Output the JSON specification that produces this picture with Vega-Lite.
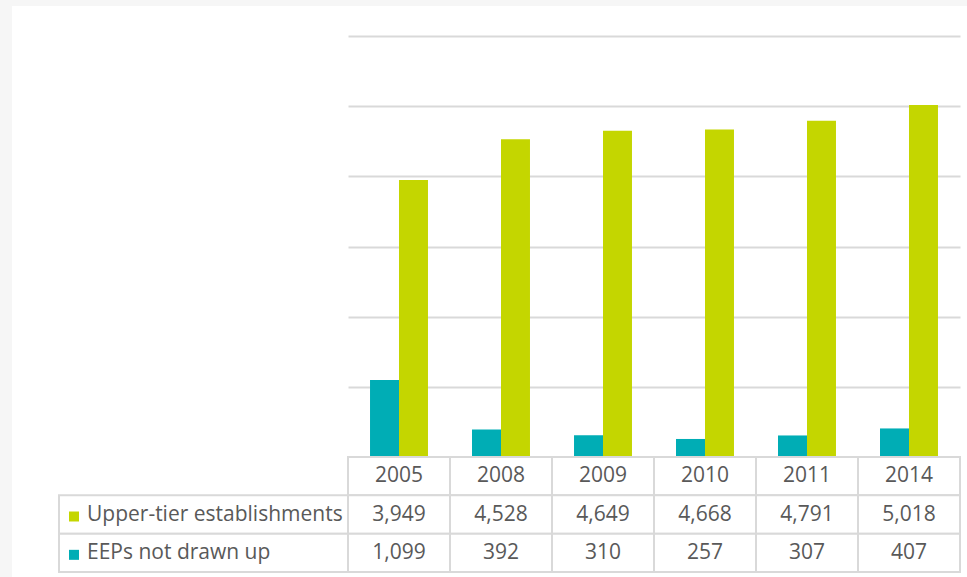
{
  "$schema": "https://vega.github.io/schema/vega-lite/v6.json",
  "background": "#f6f6f6",
  "padding": {"left": 12, "top": 6, "right": 0, "bottom": 0},
  "config": {
    "view": {"fill": "white", "stroke": null},
    "font": "Open Sans",
    "concat": {"spacing": 0}
  },
  "spacing": 0,
  "bounds": "flush",
  "columns": 2,
  "data": {
    "values": [
      {"year": "2005", "series": "Upper-tier establishments", "value": 3949},
      {"year": "2008", "series": "Upper-tier establishments", "value": 4528},
      {"year": "2009", "series": "Upper-tier establishments", "value": 4649},
      {"year": "2010", "series": "Upper-tier establishments", "value": 4668},
      {"year": "2011", "series": "Upper-tier establishments", "value": 4791},
      {"year": "2014", "series": "Upper-tier establishments", "value": 5018},
      {"year": "2005", "series": "EEPs not drawn up", "value": 1099},
      {"year": "2008", "series": "EEPs not drawn up", "value": 392},
      {"year": "2009", "series": "EEPs not drawn up", "value": 310},
      {"year": "2010", "series": "EEPs not drawn up", "value": 257},
      {"year": "2011", "series": "EEPs not drawn up", "value": 307},
      {"year": "2014", "series": "EEPs not drawn up", "value": 407}
    ]
  },
  "concat": [
    {
      "width": 336,
      "height": 451,
      "view": {"fill": "white", "stroke": null},
      "mark": {"type": "rect", "opacity": 0},
      "encoding": {
        "x": {"field": "year", "type": "nominal", "axis": null},
        "y": {"field": "series", "type": "nominal", "axis": null}
      }
    },
    {
      "width": 619,
      "height": 451,
      "mark": {"type": "bar"},
      "encoding": {
        "x": {
          "field": "year",
          "type": "nominal",
          "axis": null,
          "scale": {"range": [0, 612], "paddingInner": 0, "paddingOuter": 0}
        },
        "xOffset": {
          "field": "series",
          "type": "nominal",
          "scale": {
            "domain": ["EEPs not drawn up", "Upper-tier establishments"],
            "paddingInner": 0,
            "paddingOuter": 0.76
          }
        },
        "y": {
          "field": "value",
          "type": "quantitative",
          "scale": {"domain": [0, 6000], "range": [451, 30], "nice": false},
          "axis": {
            "values": [1000, 2000, 3000, 4000, 5000, 6000],
            "labels": false,
            "ticks": false,
            "domain": false,
            "title": null,
            "grid": true,
            "gridColor": "#d9d9d9",
            "gridWidth": 2
          }
        },
        "color": {
          "field": "series",
          "type": "nominal",
          "scale": {
            "domain": ["EEPs not drawn up", "Upper-tier establishments"],
            "range": ["#00adb5", "#c4d600"]
          },
          "legend": null
        }
      }
    },
    {
      "width": 336,
      "height": 120,
      "transform": [{"filter": "datum.year === '2005'"}],
      "layer": [
        {
          "mark": {"type": "rect", "fill": "white", "stroke": "#d9d9d9", "strokeWidth": 2},
          "encoding": {
            "x": {
              "datum": "lbl",
              "type": "nominal",
              "axis": null,
              "scale": {"domain": ["lbl"], "range": [47, 336], "paddingInner": 0, "paddingOuter": 0}
            },
            "y": {
              "field": "series",
              "type": "nominal",
              "axis": null,
              "scale": {
                "domain": ["hdr", "Upper-tier establishments", "EEPs not drawn up"],
                "range": [0, 115],
                "paddingInner": 0,
                "paddingOuter": 0
              }
            }
          }
        },
        {
          "mark": {"type": "square", "filled": true, "size": 100, "opacity": 1, "xOffset": 15, "yOffset": 2},
          "encoding": {
            "x": {
              "datum": "lbl",
              "type": "nominal",
              "bandPosition": 0,
              "axis": null,
              "scale": {"domain": ["lbl"], "range": [47, 336], "paddingInner": 0, "paddingOuter": 0}
            },
            "y": {
              "field": "series",
              "type": "nominal",
              "axis": null,
              "scale": {
                "domain": ["hdr", "Upper-tier establishments", "EEPs not drawn up"],
                "range": [0, 115],
                "paddingInner": 0,
                "paddingOuter": 0
              }
            },
            "color": {
              "field": "series",
              "type": "nominal",
              "scale": {
                "domain": ["EEPs not drawn up", "Upper-tier establishments"],
                "range": ["#00adb5", "#c4d600"]
              },
              "legend": null
            }
          }
        },
        {
          "mark": {"type": "text", "align": "left", "baseline": "middle", "dx": 28, "fontSize": 21, "color": "#595959"},
          "encoding": {
            "x": {
              "datum": "lbl",
              "type": "nominal",
              "bandPosition": 0,
              "axis": null,
              "scale": {"domain": ["lbl"], "range": [47, 336], "paddingInner": 0, "paddingOuter": 0}
            },
            "y": {
              "field": "series",
              "type": "nominal",
              "axis": null,
              "scale": {
                "domain": ["hdr", "Upper-tier establishments", "EEPs not drawn up"],
                "range": [0, 115],
                "paddingInner": 0,
                "paddingOuter": 0
              }
            },
            "text": {"field": "series"}
          }
        }
      ]
    },
    {
      "width": 619,
      "height": 120,
      "layer": [
        {
          "transform": [{"filter": "datum.series === 'Upper-tier establishments'"}],
          "mark": {"type": "rect", "fill": "white", "stroke": "#d9d9d9", "strokeWidth": 2},
          "encoding": {
            "x": {"field": "year", "type": "nominal", "axis": null, "scale": {"range": [0, 612], "paddingInner": 0, "paddingOuter": 0}},
            "y": {
              "datum": "hdr",
              "type": "nominal",
              "axis": null,
              "scale": {
                "domain": ["hdr", "Upper-tier establishments", "EEPs not drawn up"],
                "range": [0, 115],
                "paddingInner": 0,
                "paddingOuter": 0
              }
            }
          }
        },
        {
          "mark": {"type": "rect", "fill": "white", "stroke": "#d9d9d9", "strokeWidth": 2},
          "encoding": {
            "x": {"field": "year", "type": "nominal", "axis": null, "scale": {"range": [0, 612], "paddingInner": 0, "paddingOuter": 0}},
            "y": {
              "field": "series",
              "type": "nominal",
              "axis": null,
              "scale": {
                "domain": ["hdr", "Upper-tier establishments", "EEPs not drawn up"],
                "range": [0, 115],
                "paddingInner": 0,
                "paddingOuter": 0
              }
            }
          }
        },
        {
          "transform": [{"filter": "datum.series === 'Upper-tier establishments'"}],
          "mark": {"type": "text", "baseline": "middle", "fontSize": 21, "color": "#595959"},
          "encoding": {
            "x": {"field": "year", "type": "nominal", "axis": null, "scale": {"range": [0, 612], "paddingInner": 0, "paddingOuter": 0}},
            "y": {
              "datum": "hdr",
              "type": "nominal",
              "axis": null,
              "scale": {
                "domain": ["hdr", "Upper-tier establishments", "EEPs not drawn up"],
                "range": [0, 115],
                "paddingInner": 0,
                "paddingOuter": 0
              }
            },
            "text": {"field": "year"}
          }
        },
        {
          "mark": {"type": "text", "baseline": "middle", "fontSize": 21, "color": "#595959"},
          "encoding": {
            "x": {"field": "year", "type": "nominal", "axis": null, "scale": {"range": [0, 612], "paddingInner": 0, "paddingOuter": 0}},
            "y": {
              "field": "series",
              "type": "nominal",
              "axis": null,
              "scale": {
                "domain": ["hdr", "Upper-tier establishments", "EEPs not drawn up"],
                "range": [0, 115],
                "paddingInner": 0,
                "paddingOuter": 0
              }
            },
            "text": {"field": "value", "type": "quantitative", "format": ","}
          }
        }
      ]
    }
  ]
}
